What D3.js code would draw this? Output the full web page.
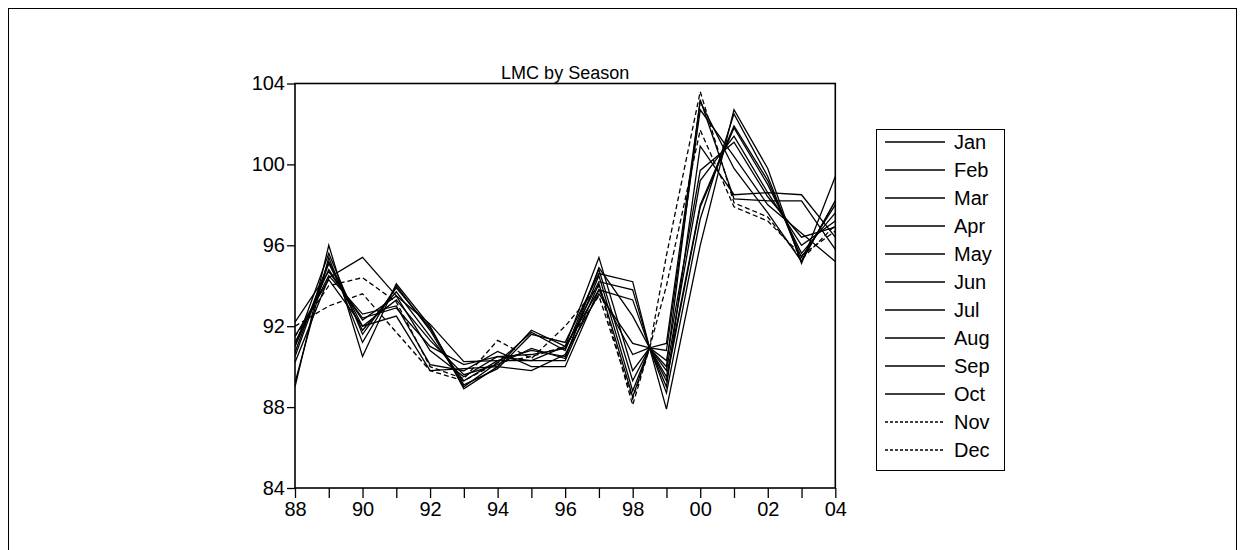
<!DOCTYPE html>
<html><head><meta charset="utf-8">
<script src="https://cdn.jsdelivr.net/npm/d3@7"></script>
<style>
html,body{margin:0;padding:0;background:#fff;}
svg text{font-family:"Liberation Sans",Arial,sans-serif;fill:#000;}
</style></head>
<body>
<svg id="chart" width="1244" height="550"></svg>
<script>
const years = [1988,1989,1990,1991,1992,1993,1994,1995,1996,1997,1998,1998.5,1999,2000,2001,2002,2003,2004];
const months = ["Jan","Feb","Mar","Apr","May","Jun","Jul","Aug","Sep","Oct","Nov","Dec"];
const dashedSeries = ["Nov","Dec"];
const jan = [89.0,96.0,90.5,94.1,92.0,88.9,90.0,91.8,91.0,95.4,89.8,90.93,87.9,96.0,102.7,99.8,95.1,99.4];
const feb = [89.2,95.4,91.2,94.0,91.8,89.0,90.2,91.7,90.8,94.8,89.3,90.93,88.7,97.3,102.5,99.4,95.2,98.2];
const mar = [90.5,95.1,91.8,93.7,91.5,89.3,90.3,90.8,90.5,94.5,88.8,90.93,89.3,97.9,101.8,99.0,95.6,97.6];
const apr = [91.0,94.8,92.3,93.5,90.8,89.5,90.5,90.3,90.3,94.1,88.5,90.93,89.8,99.2,101.4,98.6,96.0,97.2];
const may = [91.2,94.5,92.6,93.0,90.1,89.8,90.75,90.0,90.0,93.8,90.6,90.93,90.3,99.7,101.1,98.4,96.4,96.9];
const jun = [91.5,94.3,92.0,92.5,89.8,89.9,90.0,89.8,90.6,93.6,91.15,90.93,90.8,102.7,100.4,98.0,96.6,95.2];
const jul = [90.2,94.4,95.4,93.5,92.1,90.25,90.3,90.3,91.0,93.8,93.3,90.93,91.15,103.1,99.8,97.6,95.2,98.2];
const aug = [92.2,94.7,92.4,92.9,91.0,90.1,90.5,90.6,90.9,94.2,93.8,90.93,89.0,100.9,98.5,98.6,98.5,96.4];
const sep = [91.0,95.6,91.6,93.9,91.9,89.1,89.9,91.6,91.2,94.6,94.2,90.93,89.5,98.0,101.9,99.2,95.4,98.0];
const oct = [90.7,95.2,92.0,93.3,91.3,89.6,90.1,90.9,90.4,94.9,92.5,90.93,90.0,103.2,98.3,98.2,98.2,95.8];
const nov = [91.5,94.0,94.4,93.2,90.0,89.4,91.3,90.4,92.0,94.0,88.1,90.93,95.5,103.6,98.1,97.4,95.3,97.0];
const dec = [92.0,93.0,93.6,91.7,89.8,89.3,90.2,90.5,91.0,93.5,88.4,90.93,94.0,101.7,97.9,97.2,95.5,96.7];
const seriesValues = [jan,feb,mar,apr,may,jun,jul,aug,sep,oct,nov,dec];
const yTicks = [84,88,92,96,100,104];
const xTickYears = [1988,1989,1990,1991,1992,1993,1994,1995,1996,1997,1998,1999,2000,2001,2002,2003,2004];
const xLabelYears = [1988,1990,1992,1994,1996,1998,2000,2002,2004];
const title = "LMC by Season";

const svg = d3.select("#chart");
// outer frame
svg.append("rect").attr("x",8.5).attr("y",8.5).attr("width",1228).attr("height",560)
  .attr("fill","none").attr("stroke","#000").attr("stroke-width",1);

const L=295, R=835.3, T=83.5, B=488;
const x = d3.scaleLinear().domain([1988,2004]).range([L,R]);
const y = d3.scaleLinear().domain([84,104]).range([B,T]);

// title
svg.append("text").attr("x",(L+R)/2).attr("y",79).attr("text-anchor","middle")
  .attr("font-size",18).text(title);

// axes
const xAxis = d3.axisBottom(x).tickValues(xTickYears).tickSize(10).tickPadding(4)
  .tickFormat(d => xLabelYears.includes(d) ? String(d%100).padStart(2,"0") : "");
const gx = svg.append("g").attr("transform",`translate(0,${B})`).call(xAxis);
gx.selectAll("text").attr("font-size",20).attr("font-family","Liberation Sans, Arial, sans-serif");
const yAxis = d3.axisLeft(y).tickValues(yTicks).tickSize(8).tickPadding(2);
const gy = svg.append("g").attr("transform",`translate(${L},0)`).call(yAxis);
gy.selectAll("text").attr("font-size",20).attr("font-family","Liberation Sans, Arial, sans-serif");
[gx,gy].forEach(g=>{g.select(".domain").remove(); g.selectAll("line").attr("stroke","#000").attr("stroke-width",1.3);});

// plot frame
svg.append("rect").attr("x",L).attr("y",T).attr("width",R-L).attr("height",B-T)
  .attr("fill","none").attr("stroke","#000").attr("stroke-width",1.6);

// lines
const line = d3.line().x((d,i)=>x(years[i])).y(d=>y(d));
svg.append("clipPath").attr("id","pc").append("rect")
  .attr("x",L).attr("y",T).attr("width",R-L).attr("height",B-T);
const gl = svg.append("g").attr("clip-path","url(#pc)");
months.forEach((m,k)=>{
  gl.append("path").datum(seriesValues[k]).attr("d",line)
    .attr("fill","none").attr("stroke","#000").attr("stroke-width",1.3)
    .attr("stroke-linejoin","miter")
    .attr("stroke-dasharray", dashedSeries.includes(m) ? "5,3" : null);
});

// legend
const lgX=876, lgTop=129, lgW=128, rowH=28, firstRow=142;
svg.append("rect").attr("x",lgX+0.5).attr("y",lgTop+0.5).attr("width",lgW).attr("height",341)
  .attr("fill","#fff").attr("stroke","#000").attr("stroke-width",1);
months.forEach((m,k)=>{
  const yy = firstRow + k*rowH;
  svg.append("line").attr("x1",885).attr("x2",945).attr("y1",yy).attr("y2",yy)
    .attr("stroke","#000").attr("stroke-width",1.3)
    .attr("stroke-dasharray", dashedSeries.includes(m) ? "3,2" : null);
  svg.append("text").attr("x",954).attr("y",yy).attr("dy","0.36em").attr("font-size",20).text(m);
});
</script>
</body></html>
